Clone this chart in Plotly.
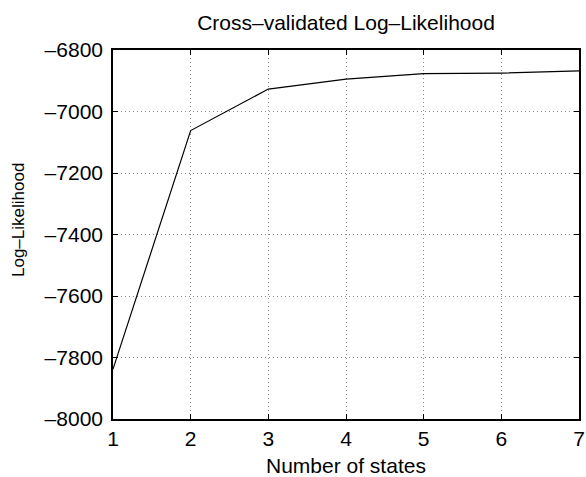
import plotly.graph_objects as go

# Cross-validated log-likelihood per number of hidden states
n_states = [1, 2, 3, 4, 5, 6, 7]
log_likelihood = [-7838, -7062, -6927, -6895, -6877, -6875, -6868]

y_ticks = [-8000, -7800, -7600, -7400, -7200, -7000, -6800]
y_tick_labels = ["\u2013" + str(abs(v)) for v in y_ticks]
x_ticks = [1, 2, 3, 4, 5, 6, 7]

FONT = "Liberation Sans, Arial, Helvetica, sans-serif"
FS = 21

# plot-area geometry in pixels
W, H = 586, 477
L, R, T, B = 113, 7, 50, 58
plot_w, plot_h = W - L - R, H - T - B

fig = go.Figure()
fig.add_trace(go.Scatter(
    x=n_states, y=log_likelihood, mode="lines",
    line=dict(color="black", width=1.2),
    showlegend=False, hoverinfo="skip",
))

axis_common = dict(
    showline=True, linecolor="black", linewidth=1.6, mirror="ticks",
    ticks="inside", ticklen=5, tickwidth=1, tickcolor="black",
    showgrid=True, gridcolor="#8a8a8a", griddash="1px,3px", gridwidth=1,
    zeroline=False, automargin=False,
    tickfont=dict(family=FONT, size=FS, color="black"),
)

fig.update_xaxes(
    range=[1, 7], tickvals=x_ticks, ticktext=[str(v) for v in x_ticks],
    **axis_common,
)
fig.update_yaxes(
    range=[-8000, -6800], tickvals=y_ticks, ticktext=y_tick_labels,
    ticklabelstandoff=4,
    **axis_common,
)

# axis labels as paper-anchored annotations
fig.add_annotation(
    text="Number of states", showarrow=False,
    xref="paper", yref="paper",
    x=0.5, y=(H - B - 466) / plot_h,
    xanchor="center", yanchor="middle",
    font=dict(family=FONT, size=FS, color="black"),
)
fig.add_annotation(
    text="Log\u2013Likelihood", textangle=-90, showarrow=False,
    xref="paper", yref="paper",
    x=(19 - L) / plot_w, y=(H - B - 220) / plot_h,
    xanchor="center", yanchor="middle",
    font=dict(family=FONT, size=17, color="black"),
)

fig.update_layout(
    width=W, height=H,
    margin=dict(l=L, r=R, t=T, b=B),
    paper_bgcolor="white", plot_bgcolor="white",
    title=dict(
        text="Cross\u2013validated Log\u2013Likelihood",
        font=dict(family=FONT, size=FS, color="black"),
        x=346 / W, xanchor="center", y=1 - 23 / H, yanchor="middle",
    ),
)

fig.write_html("out.html")
